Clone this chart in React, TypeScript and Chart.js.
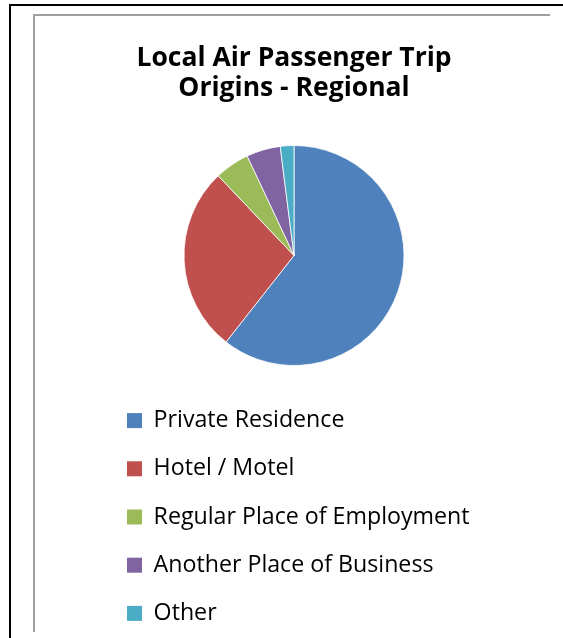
import React, { useEffect, useRef } from "react";
import { Chart, registerables } from "chart.js";

Chart.register(...registerables);

const categories = [
  "Private Residence",
  "Hotel / Motel",
  "Regular Place of Employment",
  "Another Place of Business",
  "Other",
];
const shares = [60.6, 27.3, 5.1, 5.0, 2.0];
const colors = ["#4F81BD", "#C0504D", "#9BBB59", "#8064A2", "#4BACC6"];
const titleLines = ["Local Air Passenger Trip", "Origins - Regional"];

export default function App() {
  const ref = useRef<HTMLCanvasElement | null>(null);

  useEffect(() => {
    if (!ref.current) return;
    const chart = new Chart(ref.current, {
      type: "pie",
      data: {
        labels: categories,
        datasets: [
          {
            data: shares,
            backgroundColor: colors,
            borderColor: "#ffffff",
            borderWidth: 0.8,
            radius: 110,
          },
        ],
      },
      options: {
        animation: false,
        responsive: false,
        maintainAspectRatio: false,
        layout: { padding: { top: 0, bottom: 0, left: 0, right: 0 } },
        plugins: {
          tooltip: { enabled: false },
          title: {
            display: true,
            text: titleLines,
            color: "#000000",
            font: { family: "Open Sans", size: 26.5, weight: "bold", lineHeight: 1.14 },
            padding: { top: 27.4, bottom: 23.2 },
          },
          legend: {
            display: true,
            position: "bottom",
            align: "start",
            labels: {
              color: "#000000",
              font: { family: "Open Sans", size: 23.2 },
              boxWidth: 15,
              boxHeight: 15,
              padding: 25,
              generateLabels: (c: any) =>
                (Chart as any).overrides.pie.plugins.legend.labels
                  .generateLabels(c)
                  .map((l: any) => ({ ...l, lineWidth: 0 })),
            },
          },
        },
      },
    });
    return () => chart.destroy();
  }, []);

  return (
    <div
      style={{
        position: "fixed",
        left: 0,
        top: 0,
        width: 563,
        height: 638,
        background: "#ffffff",
        overflow: "hidden",
      }}
    >
      <div style={{ position: "absolute", left: 9, top: 4, width: 554, height: 2, background: "#000" }} />
      <div style={{ position: "absolute", left: 9, top: 4, width: 2, height: 634, background: "#000" }} />
      <div style={{ position: "absolute", left: 33, top: 14, width: 517, height: 2, background: "#a0a0a0" }} />
      <div style={{ position: "absolute", left: 33, top: 14, width: 2, height: 618, background: "#a0a0a0" }} />
      <canvas
        ref={ref}
        width={384}
        height={619}
        style={{ position: "absolute", left: 102, top: 16, width: 384, height: 619 }}
      />
    </div>
  );
}
